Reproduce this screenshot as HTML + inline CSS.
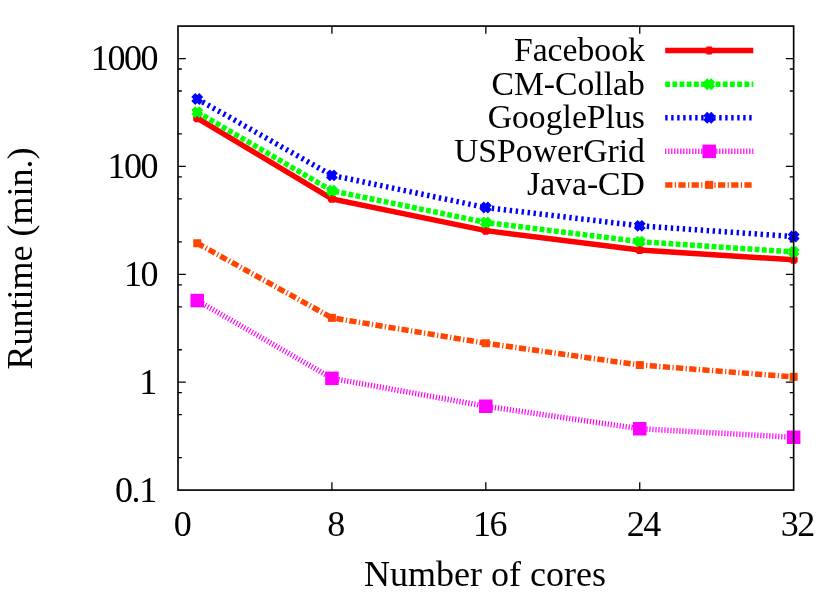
<!DOCTYPE html>
<html><head><meta charset="utf-8"><title>Runtime vs cores</title>
<style>html,body{margin:0;padding:0;background:#fff}svg{display:block;will-change:transform}text{font-family:"Liberation Serif",serif;fill:#000}</style></head><body>
<svg width="830" height="605" viewBox="0 0 830 605">
<rect width="830" height="605" fill="#fff"/>
<polyline points="197.24,118.15 331.91,198.85 485.82,230.65 639.74,250.05 793.65,259.85" fill="none" stroke="#ff0000" stroke-width="5.5" stroke-linejoin="miter"/>
<path d="M193.24 118.15H201.24M197.24 114.15V122.15" stroke="#ff0000" stroke-width="5.5" fill="none"/>
<path d="M327.91 198.85H335.91M331.91 194.85V202.85" stroke="#ff0000" stroke-width="5.5" fill="none"/>
<path d="M481.82 230.65H489.82M485.82 226.65V234.65" stroke="#ff0000" stroke-width="5.5" fill="none"/>
<path d="M635.74 250.05H643.74M639.74 246.05V254.05" stroke="#ff0000" stroke-width="5.5" fill="none"/>
<path d="M789.65 259.85H797.65M793.65 255.85V263.85" stroke="#ff0000" stroke-width="5.5" fill="none"/>
<path d="M665.2 50.55H753.3" fill="none" stroke="#ff0000" stroke-width="5.5"/>
<path d="M705.20 50.55H713.20M709.20 46.55V54.55" stroke="#ff0000" stroke-width="5.5" fill="none"/>
<polyline points="197.24,112.10 331.91,190.75 485.82,222.45 639.74,241.65 793.65,251.95" fill="none" stroke="#00ff00" stroke-width="5.5" stroke-linejoin="miter" stroke-dasharray="4.802 2.401"/>
<path d="M193.24 108.10L201.24 116.10M193.24 116.10L201.24 108.10M193.24 112.10H201.24M197.24 108.10V116.10" stroke="#00ff00" stroke-width="5.5" fill="none"/>
<path d="M327.91 186.75L335.91 194.75M327.91 194.75L335.91 186.75M327.91 190.75H335.91M331.91 186.75V194.75" stroke="#00ff00" stroke-width="5.5" fill="none"/>
<path d="M481.82 218.45L489.82 226.45M481.82 226.45L489.82 218.45M481.82 222.45H489.82M485.82 218.45V226.45" stroke="#00ff00" stroke-width="5.5" fill="none"/>
<path d="M635.74 237.65L643.74 245.65M635.74 245.65L643.74 237.65M635.74 241.65H643.74M639.74 237.65V245.65" stroke="#00ff00" stroke-width="5.5" fill="none"/>
<path d="M789.65 247.95L797.65 255.95M789.65 255.95L797.65 247.95M789.65 251.95H797.65M793.65 247.95V255.95" stroke="#00ff00" stroke-width="5.5" fill="none"/>
<path d="M665.2 84.2H753.3" fill="none" stroke="#00ff00" stroke-width="5.5" stroke-dasharray="4.802 2.401"/>
<path d="M705.20 80.20L713.20 88.20M705.20 88.20L713.20 80.20M705.20 84.20H713.20M709.20 80.20V88.20" stroke="#00ff00" stroke-width="5.5" fill="none"/>
<polyline points="197.24,98.95 331.91,175.35 485.82,207.55 639.74,225.85 793.65,236.55" fill="none" stroke="#0000ff" stroke-width="5.5" stroke-linejoin="miter" stroke-dasharray="2.401 3.601"/>
<path d="M193.24 94.95L201.24 102.95M193.24 102.95L201.24 94.95M193.24 98.95H201.24M197.24 94.95V102.95" stroke="#0000ff" stroke-width="5.5" fill="none"/>
<path d="M327.91 171.35L335.91 179.35M327.91 179.35L335.91 171.35M327.91 175.35H335.91M331.91 171.35V179.35" stroke="#0000ff" stroke-width="5.5" fill="none"/>
<path d="M481.82 203.55L489.82 211.55M481.82 211.55L489.82 203.55M481.82 207.55H489.82M485.82 203.55V211.55" stroke="#0000ff" stroke-width="5.5" fill="none"/>
<path d="M635.74 221.85L643.74 229.85M635.74 229.85L643.74 221.85M635.74 225.85H643.74M639.74 221.85V229.85" stroke="#0000ff" stroke-width="5.5" fill="none"/>
<path d="M789.65 232.55L797.65 240.55M789.65 240.55L797.65 232.55M789.65 236.55H797.65M793.65 232.55V240.55" stroke="#0000ff" stroke-width="5.5" fill="none"/>
<path d="M665.2 117.7H753.3" fill="none" stroke="#0000ff" stroke-width="5.5" stroke-dasharray="2.401 3.601"/>
<path d="M705.20 113.70L713.20 121.70M705.20 121.70L713.20 113.70M705.20 117.70H713.20M709.20 113.70V121.70" stroke="#0000ff" stroke-width="5.5" fill="none"/>
<polyline points="197.24,300.55 331.91,378.35 485.82,406.25 639.74,428.75 793.65,437.25" fill="none" stroke="#ff00ff" stroke-width="5.5" stroke-linejoin="miter" stroke-dasharray="1.200 1.801"/>
<rect x="190.49" y="293.80" width="13.50" height="13.50" fill="#ff00ff"/>
<rect x="325.16" y="371.60" width="13.50" height="13.50" fill="#ff00ff"/>
<rect x="479.07" y="399.50" width="13.50" height="13.50" fill="#ff00ff"/>
<rect x="632.99" y="422.00" width="13.50" height="13.50" fill="#ff00ff"/>
<rect x="786.90" y="430.50" width="13.50" height="13.50" fill="#ff00ff"/>
<path d="M665.2 151.35H753.3" fill="none" stroke="#ff00ff" stroke-width="5.5" stroke-dasharray="1.200 1.801"/>
<rect x="702.45" y="144.60" width="13.50" height="13.50" fill="#ff00ff"/>
<polyline points="197.24,243.25 331.91,317.85 485.82,343.25 639.74,365.05 793.65,376.85" fill="none" stroke="#ff4500" stroke-width="5.5" stroke-linejoin="miter" stroke-dasharray="7.203 2.401 1.200 2.401"/>
<rect x="193.24" y="239.25" width="8.00" height="8.00" fill="#ff4500"/>
<rect x="327.91" y="313.85" width="8.00" height="8.00" fill="#ff4500"/>
<rect x="481.82" y="339.25" width="8.00" height="8.00" fill="#ff4500"/>
<rect x="635.74" y="361.05" width="8.00" height="8.00" fill="#ff4500"/>
<rect x="789.65" y="372.85" width="8.00" height="8.00" fill="#ff4500"/>
<path d="M665.2 184.9H753.3" fill="none" stroke="#ff4500" stroke-width="5.5" stroke-dasharray="7.203 2.401 1.200 2.401"/>
<rect x="705.20" y="180.90" width="8.00" height="8.00" fill="#ff4500"/>
<path d="M331.91 490.1V482.30M331.91 26.07V33.87M485.82 490.1V482.30M485.82 26.07V33.87M639.74 490.1V482.30M639.74 26.07V33.87M178.0 457.62H181.90M793.65 457.62H789.75M178.0 414.69H181.90M793.65 414.69H789.75M178.0 392.67H181.90M793.65 392.67H789.75M178.0 382.21H185.80M793.65 382.21H785.85M178.0 349.73H181.90M793.65 349.73H789.75M178.0 306.80H181.90M793.65 306.80H789.75M178.0 284.78H181.90M793.65 284.78H789.75M178.0 274.32H185.80M793.65 274.32H785.85M178.0 241.84H181.90M793.65 241.84H789.75M178.0 198.91H181.90M793.65 198.91H789.75M178.0 176.89H181.90M793.65 176.89H789.75M178.0 166.43H185.80M793.65 166.43H785.85M178.0 133.95H181.90M793.65 133.95H789.75M178.0 91.02H181.90M793.65 91.02H789.75M178.0 69.00H181.90M793.65 69.00H789.75M178.0 58.54H185.80M793.65 58.54H785.85" stroke="#000" stroke-width="1.3" fill="none"/>
<rect x="178.0" y="26.07" width="615.65" height="464.03" fill="none" stroke="#000" stroke-width="1.65"/>
<text transform="translate(157.20,69.9) scale(1.0,1)" font-size="36" text-anchor="end" letter-spacing="-1.4">1000</text>
<text transform="translate(157.20,177.9) scale(1.0,1)" font-size="36" text-anchor="end" letter-spacing="-1.4">100</text>
<text transform="translate(157.20,285.8) scale(1.0,1)" font-size="36" text-anchor="end" letter-spacing="-1.4">10</text>
<text transform="translate(155.80,393.7) scale(1.0,1)" font-size="36" text-anchor="end" letter-spacing="-1.4">1</text>
<text transform="translate(155.80,501.8) scale(1.0,1)" font-size="36" text-anchor="end" letter-spacing="-1.4">0.1</text>
<text transform="translate(182.00,535.7) scale(1.0,1)" font-size="36" text-anchor="middle" letter-spacing="-1.4">0</text>
<text transform="translate(335.50,535.7) scale(1.0,1)" font-size="36" text-anchor="middle" letter-spacing="-1.4">8</text>
<text transform="translate(489.50,535.7) scale(1.0,1)" font-size="36" text-anchor="middle" letter-spacing="-1.4">16</text>
<text transform="translate(643.30,535.7) scale(1.0,1)" font-size="36" text-anchor="middle" letter-spacing="-1.4">24</text>
<text transform="translate(797.30,535.7) scale(1.0,1)" font-size="36" text-anchor="middle" letter-spacing="-1.4">32</text>
<text transform="translate(644.90,60.849999999999994) scale(1.0,1)" font-size="33.7" text-anchor="end">Facebook</text>
<text transform="translate(644.90,94.5) scale(1.0,1)" font-size="33.7" text-anchor="end">CM-Collab</text>
<text transform="translate(644.90,128.0) scale(1.0,1)" font-size="33.7" text-anchor="end">GooglePlus</text>
<text transform="translate(644.90,161.65) scale(1.0,1)" font-size="33.7" text-anchor="end">USPowerGrid</text>
<text transform="translate(644.90,195.20000000000002) scale(1.0,1)" font-size="33.7" text-anchor="end">Java-CD</text>
<text transform="translate(485.00,585.5) scale(1.0,1)" font-size="36" text-anchor="middle">Number of cores</text>
<text transform="translate(32.2,258.5) rotate(-90)" font-size="36" text-anchor="middle">Runtime (min.)</text>
</svg></body></html>
